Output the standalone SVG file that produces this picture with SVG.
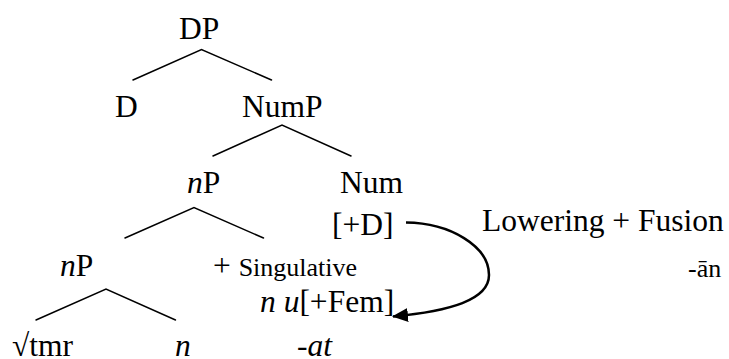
<svg xmlns="http://www.w3.org/2000/svg" width="729" height="359" viewBox="0 0 729 359" font-family="'Liberation Serif', 'DejaVu Serif', serif">
<defs>
<style>
text{font-family:'Liberation Serif','DejaVu Serif',serif;font-size:31.5px;fill:#000}
.sm{font-size:26px}
.it{font-style:italic}
.br{stroke:#000;stroke-width:1.5;fill:none;stroke-linecap:round}
.arc{stroke:#000;stroke-width:2.5;fill:none}
</style>
<marker id="ah" markerWidth="16" markerHeight="14" refX="15" refY="7" orient="auto" markerUnits="userSpaceOnUse">
<path d="M0,0 L16,7 L0,14 Z" fill="#000"/>
</marker>
</defs>
<rect width="729" height="359" fill="#fff"/>
<g id="connectors">
<path class="br" d="M133,80 L201.5,49.5 L271.5,80"/>
<path class="br" d="M213,156 L282,125 L351,156"/>
<path class="br" d="M125,238 L194,207.5 L263.5,238"/>
<path class="br" d="M36,320 L106,289 L175.5,320"/>
<path class="arc" d="M406,222.5 C450,223 489,246 489,275 C489,300 450,311 393,316.5" marker-end="url(#ah)"/>
</g>
<g id="DP"><text x="179" y="39">DP</text></g>
<g id="D"><text x="115" y="117">D</text></g>
<g id="NumP"><text x="242" y="117">NumP</text></g>
<g id="nP-upper"><text x="187" y="193"><tspan class="it">n</tspan>P</text></g>
<g id="Num"><text x="340" y="193">Num</text><text x="332" y="235">[+D]</text></g>
<g id="operation"><text x="482" y="231">Lowering + Fusion</text></g>
<g id="an"><text class="sm" x="688" y="277">-ān</text></g>
<g id="nP-lower"><text x="60" y="276"><tspan class="it">n</tspan>P</text></g>
<g id="singulative"><text x="213" y="276">+ <tspan class="sm">Singulative</tspan></text>
<text x="260" y="312"><tspan class="it">n u</tspan>[+Fem]</text></g>
<g id="root"><text x="12" y="356">√tmr</text></g>
<g id="n"><text class="it" x="175" y="356">n</text></g>
<g id="at"><text class="it" x="297" y="356">-at</text></g>
</svg>
